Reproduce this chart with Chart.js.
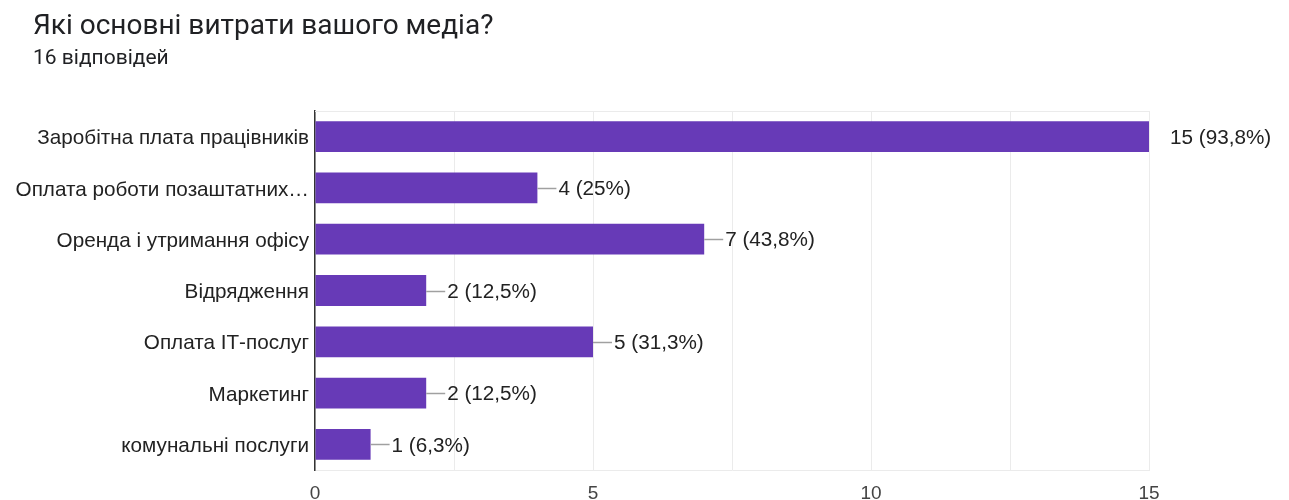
<!DOCTYPE html>
<html>
<head>
<meta charset="utf-8">
<script src="https://cdn.jsdelivr.net/npm/chart.js@4.4.1/dist/chart.umd.min.js"></script>
<style>
  html, body { margin: 0; padding: 0; background: #fff; }
  #wrap { position: relative; width: 1289px; height: 500px; overflow: hidden; }
  #title { position: absolute; left: 33px; top: 11px; font-family: Roboto, sans-serif; font-size: 28px; line-height: 28px; color: #202124; white-space: nowrap; }
  #subtitle { position: absolute; left: 33px; top: 47px; font-family: Roboto, sans-serif; font-size: 21px; line-height: 21px; color: #202124; white-space: nowrap; }
  canvas { position: absolute; left: 0; top: 0; }
</style>
</head>
<body>
<div id="wrap">
  <canvas id="c" width="1289" height="500"></canvas>
  <div id="title">Які основні витрати вашого медіа?</div>
  <div id="subtitle">16 відповідей</div>
</div>
<script>
const categories = [
  "Заробітна плата працівників",
  "Оплата роботи позаштатних…",
  "Оренда і утримання офісу",
  "Відрядження",
  "Оплата ІТ-послуг",
  "Маркетинг",
  "комунальні послуги"
];
const counts = [15, 4, 7, 2, 5, 2, 1];
const percentLabels = ["93,8%", "25%", "43,8%", "12,5%", "31,3%", "12,5%", "6,3%"];
const tickLabels = { 0: "0", 5: "5", 10: "10", 15: "15" };

const FONT = "Arial, 'Liberation Sans', sans-serif";

const frame = {
  id: 'frame',
  beforeDatasetsDraw(chart) {
    const { ctx, chartArea: a } = chart;
    ctx.save();
    ctx.strokeStyle = '#ebebeb';
    ctx.lineWidth = 1;
    ctx.beginPath();
    ctx.moveTo(a.left, a.top + 0.5);
    ctx.lineTo(a.right, a.top + 0.5);
    ctx.stroke();
    ctx.restore();
  }
};

const valueLabels = {
  id: 'valueLabels',
  afterDatasetsDraw(chart) {
    const { ctx, chartArea: a } = chart;
    const meta = chart.getDatasetMeta(0);
    ctx.save();
    meta.data.forEach((bar, i) => {
      const x = bar.x, y = Math.round(bar.y) + 0.5;
      const lineEnd = Math.min(x + 19, a.right);
      if (lineEnd > x + 1) {
        ctx.strokeStyle = '#a0a0a0';
        ctx.lineWidth = 1.5;
        ctx.beginPath();
        ctx.moveTo(x, y);
        ctx.lineTo(lineEnd, y);
        ctx.stroke();
      }
      ctx.fillStyle = '#222';
      ctx.font = '20.7px ' + FONT;
      ctx.textAlign = 'left';
      ctx.textBaseline = 'middle';
      ctx.fillText(counts[i] + ' (' + percentLabels[i] + ')', x + 21, bar.y + 1.5);
    });
    ctx.restore();
  }
};

new Chart(document.getElementById('c'), {
  type: 'bar',
  data: {
    labels: categories,
    datasets: [{
      data: counts,
      backgroundColor: '#673ab7',
      borderWidth: 0,
      barPercentage: 1,
      categoryPercentage: 0.6
    }]
  },
  options: {
    indexAxis: 'y',
    responsive: false,
    animation: false,
    layout: { padding: { left: 0, right: 140, top: 111, bottom: 0 } },
    plugins: { legend: { display: false }, tooltip: { enabled: false } },
    scales: {
      x: {
        min: 0, max: 15,
        afterFit(s) { s.height = 30; },
        ticks: {
          stepSize: 2.5,
          autoSkip: false,
          maxRotation: 0,
          padding: 12,
          color: '#444',
          font: { family: FONT, size: 19 },
          callback(v) { return tickLabels[v] !== undefined ? tickLabels[v] : ''; }
        },
        grid: { color: '#ebebeb', lineWidth: 1, drawTicks: false },
        border: { display: true, color: '#ebebeb' }
      },
      y: {
        afterFit(s) { s.width = 315; },
        ticks: {
          padding: 6,
          labelOffset: 2,
          color: '#222',
          font: { family: FONT, size: 20.7 }
        },
        grid: { display: false, drawTicks: false },
        border: { display: true, color: '#333', width: 1.5 }
      }
    }
  },
  plugins: [frame, valueLabels]
});
</script>
</body>
</html>
